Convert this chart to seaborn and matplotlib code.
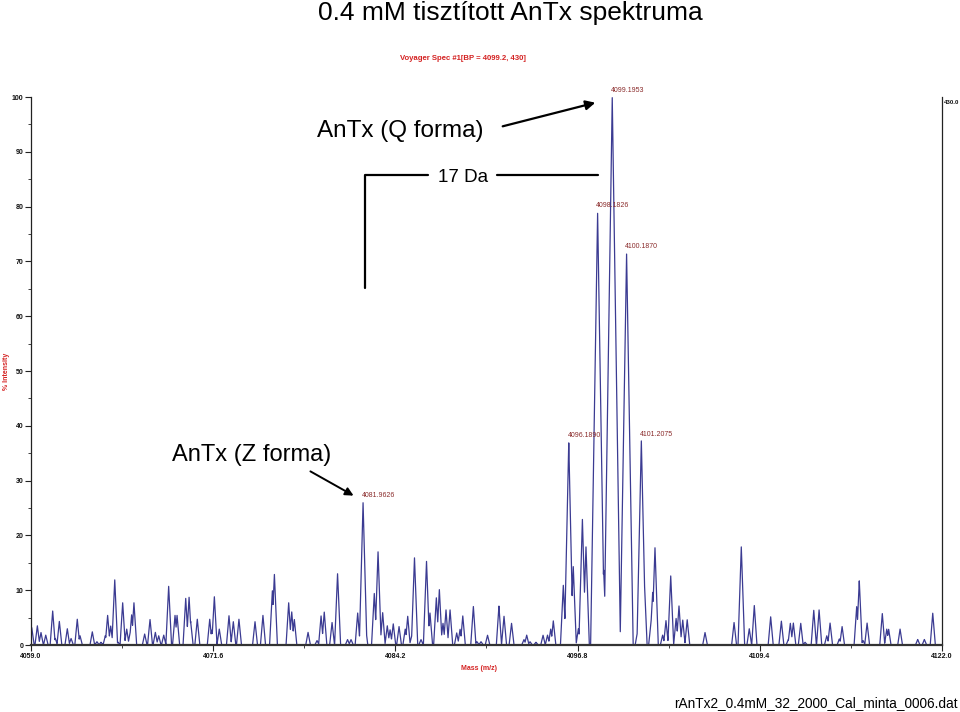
import numpy as np
import pandas as pd
import matplotlib
matplotlib.use("Agg")
import matplotlib.pyplot as plt
from matplotlib.lines import Line2D
from matplotlib.ticker import FixedLocator, MultipleLocator
import seaborn as sns

# ---------------- data ----------------
peak_mass = [
    4059.05, 4059.44, 4059.69, 4060.02, 4060.50, 4060.68, 4060.96, 4061.51, 4061.77, 4062.20,
    4062.39, 4063.24, 4063.56, 4063.84, 4064.14, 4064.30, 4064.51, 4064.79, 4065.02, 4065.34,
    4065.62, 4065.85, 4065.96, 4066.12, 4066.86, 4067.23, 4067.60, 4067.83, 4068.18, 4068.52,
    4068.96, 4069.10, 4069.70, 4069.93, 4070.04, 4070.50, 4071.36, 4071.50, 4071.68, 4072.02,
    4072.69, 4072.99, 4073.38, 4074.49, 4075.04, 4075.69, 4075.83, 4076.82, 4077.03, 4077.21,
    4078.16, 4078.78, 4079.06, 4079.28, 4079.82, 4080.20, 4080.89, 4081.13, 4081.59, 4081.9626,
    4082.12, 4082.74, 4083.00, 4083.32, 4083.64, 4083.83, 4084.05, 4084.45, 4084.88, 4085.05,
    4085.33, 4085.52, 4085.97, 4086.35, 4086.59, 4087.03, 4087.24, 4087.49, 4087.70, 4087.98,
    4088.44, 4088.67, 4088.86, 4089.59, 4089.84, 4090.12, 4090.57, 4091.36, 4091.71, 4092.23,
    4093.09, 4093.28, 4093.51, 4093.92, 4094.41, 4094.72, 4094.94, 4095.12, 4095.81, 4096.1890,
    4096.50, 4096.85, 4097.13, 4097.38, 4098.1826, 4098.60, 4099.1953, 4100.1870, 4100.94, 4101.2075,
    4101.40, 4101.88, 4101.99, 4102.15, 4102.68, 4102.91, 4103.24, 4103.61, 4103.81, 4104.07,
    4104.38, 4105.61, 4107.62, 4108.12, 4108.67, 4109.02, 4110.15, 4110.89, 4111.37, 4111.51,
    4111.72, 4112.23, 4112.53, 4113.13, 4113.50, 4114.03, 4114.26, 4114.90, 4115.09, 4116.10,
    4116.28, 4116.54, 4116.82, 4117.87, 4118.18, 4118.31, 4119.10, 4120.32, 4120.78, 4121.36,
]
peak_intensity = [
    3.2, 3.5, 2.3, 1.8, 6.2, 1.2, 4.3, 3.0, 1.2, 4.7,
    1.7, 2.4, 0.6, 0.5, 1.7, 5.4, 3.5, 12.0, 0.5, 7.7,
    2.9, 2.1, 5.5, 7.7, 2.0, 4.7, 2.3, 1.7, 1.8, 10.7,
    5.4, 5.4, 8.5, 8.8, 4.3, 4.7, 4.7, 2.7, 8.8, 2.9,
    5.4, 4.3, 4.7, 4.3, 5.4, 10.0, 13.0, 7.7, 6.1, 4.7,
    2.3, 0.8, 5.3, 6.0, 4.1, 13.0, 1.0, 1.0, 5.9, 26.1,
    3.9, 9.4, 17.0, 5.9, 3.5, 2.8, 3.9, 3.4, 2.9, 5.3,
    1.7, 15.9, 1.0, 15.4, 5.9, 8.7, 10.1, 4.0, 6.4, 6.4,
    2.2, 2.9, 5.3, 7.1, 0.6, 0.6, 1.8, 7.1, 5.3, 4.0,
    1.0, 1.8, 0.6, 0.5, 1.8, 1.8, 2.9, 4.4, 11.0, 37.0,
    14.3, 3.0, 23.1, 17.9, 79.0, 13.7, 100.0, 71.5, 2.4, 37.3,
    12.7, 4.2, 9.7, 17.9, 1.8, 4.5, 12.6, 4.9, 7.2, 4.6,
    4.6, 2.3, 4.1, 17.9, 3.0, 7.2, 5.2, 4.4, 1.0, 4.0,
    4.0, 4.0, 0.5, 6.4, 6.4, 1.7, 4.0, 1.1, 3.4, 7.0,
    11.7, 0.8, 4.0, 5.8, 2.9, 2.9, 2.9, 1.0, 1.0, 5.8,
]
labelled_mass = [4081.9626, 4096.1890, 4098.1826, 4099.1953, 4100.1870, 4101.2075]
labelled_text = ["4081.9626", "4096.1890", "4098.1826", "4099.1953", "4100.1870", "4101.2075"]
x_ticks = [4059.0, 4071.6, 4084.2, 4096.8, 4109.4, 4122.0]
x_tick_labels = ["4059.0", "4071.6", "4084.2", "4096.8", "4109.4", "4122.0"]
y_ticks = [0, 10, 20, 30, 40, 50, 60, 70, 80, 90, 100]

# ---------------- build the profile trace from the peak list ----------------
pm = np.array(peak_mass)
ph = np.array(peak_intensity)
grid = np.arange(4059.0, 4122.0 + 1e-9, 0.004)
half_w = 0.15 + 0.0042 * ph
profile = np.zeros_like(grid)
for m, h, w in zip(pm, ph, half_w):
    profile = np.maximum(profile, h * np.clip(1 - np.abs(grid - m) / w, 0, None))
spec = pd.DataFrame({"mass": grid, "intensity": profile})

# ---------------- figure ----------------
sns.set_theme(style="white")
plt.rcParams["font.family"] = ["Liberation Sans", "DejaVu Sans"]
plt.rcParams["text.color"] = "black"
W, H = 960, 712
fig = plt.figure(figsize=(9.6, 7.12), dpi=100)

def fx(px):
    return px / W

def fy(py):
    return 1 - py / H

ax = fig.add_axes([fx(31), fy(645), fx(942) - fx(31), fy(97) - fy(645)])
sns.lineplot(data=spec, x="mass", y="intensity", ax=ax, color="#3b3b92",
             linewidth=0.9, estimator=None, sort=False)
ax.set_xlim(4059.0, 4122.0)
ax.set_ylim(0, 100)
ax.set_xlabel("")
ax.set_ylabel("")

ax.spines["top"].set_visible(False)
ax.spines["left"].set_color("#222222")
ax.spines["left"].set_linewidth(0.9)
ax.spines["right"].set_color("#222222")
ax.spines["right"].set_linewidth(0.9)
ax.spines["bottom"].set_color("#333333")
ax.spines["bottom"].set_linewidth(1.6)

ax.xaxis.set_major_locator(FixedLocator(x_ticks))
ax.set_xticklabels(x_tick_labels, fontsize=5, fontweight="bold", color="#111111")
ax.xaxis.set_minor_locator(FixedLocator([4065.3, 4077.9, 4090.5, 4103.1, 4115.7]))
ax.yaxis.set_major_locator(FixedLocator(y_ticks))
ax.set_yticklabels([str(v) for v in y_ticks], fontsize=5, fontweight="bold", color="#111111")
ax.yaxis.set_minor_locator(MultipleLocator(5))
ax.tick_params(axis="both", which="major", direction="out", length=4, width=0.8,
               color="#222222", pad=1.5, bottom=True, left=True)
ax.tick_params(axis="both", which="minor", direction="out", length=2.5, width=0.6,
               color="#222222", bottom=True, left=True)

# peak labels
for m, t in zip(labelled_mass, labelled_text):
    h = ph[np.argmin(np.abs(pm - m))]
    ax.annotate(t, xy=(m, h), xytext=(-1, 2), textcoords="offset points",
                ha="left", va="bottom", fontsize=5, color="#8a2b2b")

ax.text(1.002, 0.99, "430.0", transform=ax.transAxes, ha="left", va="center",
        fontsize=4.4, fontweight="bold", color="#111111")

# ---------------- figure texts ----------------
fig.text(fx(510), fy(13), "0.4 mM tisztított AnTx spektruma", ha="center", va="center",
         fontsize=19, color="black")
fig.text(fx(463), fy(58), "Voyager Spec #1[BP = 4099.2, 430]", ha="center", va="center",
         fontsize=5.6, fontweight="bold", color="#d42222")
fig.text(fx(7), fy(371), "% Intensity", ha="center", va="center", rotation=90,
         fontsize=5, fontweight="bold", color="#d42222")
fig.text(fx(479), fy(669), "Mass (m/z)", ha="center", va="center",
         fontsize=5, fontweight="bold", color="#d42222")
fig.text(fx(958), fy(703), "rAnTx2_0.4mM_32_2000_Cal_minta_0006.dat", ha="right",
         va="center", fontsize=9.8, color="black")

fig.text(fx(400), fy(131), "AnTx (Q forma)", ha="center", va="center", fontsize=17.5)
fig.text(fx(463), fy(177), "17 Da", ha="center", va="center", fontsize=13.5)
fig.text(fx(252), fy(455), "AnTx (Z forma)", ha="center", va="center", fontsize=17)

# annotation lines and arrows
fig.add_artist(Line2D([fx(365), fx(365), fx(428)], [fy(288), fy(175), fy(175)],
                      color="black", lw=1.6))
fig.add_artist(Line2D([fx(497), fx(598)], [fy(175), fy(175)], color="black", lw=1.6))
ax.annotate("", xy=(fx(598), fy(102)), xytext=(fx(500), fy(127)),
            xycoords="figure fraction", textcoords="figure fraction",
            arrowprops=dict(arrowstyle="-|>", color="black", lw=1.6, mutation_scale=14))
ax.annotate("", xy=(fx(356), fy(497)), xytext=(fx(308), fy(470)),
            xycoords="figure fraction", textcoords="figure fraction",
            arrowprops=dict(arrowstyle="-|>", color="black", lw=1.4, mutation_scale=12))

fig.savefig("out.png", dpi=100)
